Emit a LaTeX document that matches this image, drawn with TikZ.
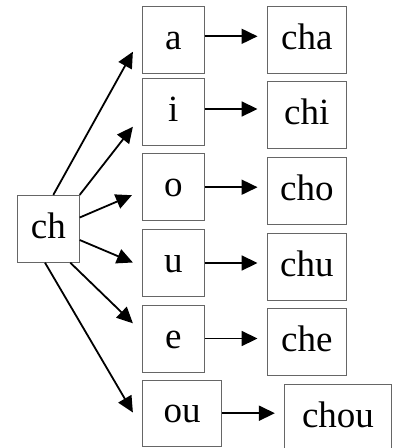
\documentclass[tikz,border=0pt]{standalone}
\usepackage{fontspec}
\setmainfont{Liberation Serif}
\usetikzlibrary{arrows.meta}
\begin{document}
\begin{tikzpicture}[x=1pt,y=-1pt,
  box/.style={draw=black!60, line width=0.8pt, inner sep=0pt, font=\fontsize{37}{44}\selectfont, text height=25.9pt, text depth=6.9pt, minimum height=67pt},
  narrow/.style={box, minimum width=62pt},
  wide/.style={box, minimum width=79.7pt},
  arr/.style={line width=1.8pt, -{Triangle[length=16pt,width=15pt]}, shorten >=9pt},
  diag/.style={arr, shorten >=0pt}]
\useasboundingbox (0,0) rectangle (393,448);
\node[narrow] (ch) at (48.3,228.8) {ch};
\node[narrow] (a) at (173.3,39.7) {a};
\node[wide] (cha) at (306.8,39.7) {cha};
\node[narrow] (i) at (173.3,112) {i};
\node[wide] (chi) at (306.8,115.3) {chi};
\node[narrow] (o) at (173.3,187.2) {o};
\node[wide] (cho) at (306.8,191.2) {cho};
\node[narrow] (u) at (173.3,263) {u};
\node[wide] (chu) at (306.8,267.2) {chu};
\node[narrow] (e) at (173.3,338.5) {e};
\node[wide] (che) at (306.8,342.3) {che};
\node[box, minimum width=79.4pt, minimum height=66.3pt] (ou) at (182,413.2) {ou};
\node[box, minimum width=107.4pt] (chou) at (338,418) {chou};
\draw[diag] ([xshift=5pt]ch.north) -- ([shift={(-9,12)}]a.west);
\draw[diag] (ch.north east) -- ([shift={(-9,14.7)}]i.west);
\draw[diag] ([shift={(0,-11.3)}]ch.east) -- ([shift={(-10,8)}]o.west);
\draw[diag] ([shift={(0,11.2)}]ch.east) -- ([shift={(-9,-0.5)}]u.west);
\draw[diag] ([shift={(22,0)}]ch.south) -- ([shift={(-9,-15.2)}]e.west);
\draw[diag] ([shift={(-3.3,0)}]ch.south) -- ([shift={(-9,-0.7)}]ou.west);
\draw[arr] ([yshift=3.4pt]a.east) -- ([yshift=3.4pt]a.east -| cha.west);
\draw[arr] ([yshift=3pt]i.east) -- ([yshift=3pt]i.east -| chi.west);
\draw[arr] (o.east) -- (o.east -| cho.west);
\draw[arr] (u.east) -- (u.east -| chu.west);
\draw[arr] (e.east) -- (e.east -| che.west);
\draw[arr] (ou.east) -- (ou.east -| chou.west);
\end{tikzpicture}
\end{document}
